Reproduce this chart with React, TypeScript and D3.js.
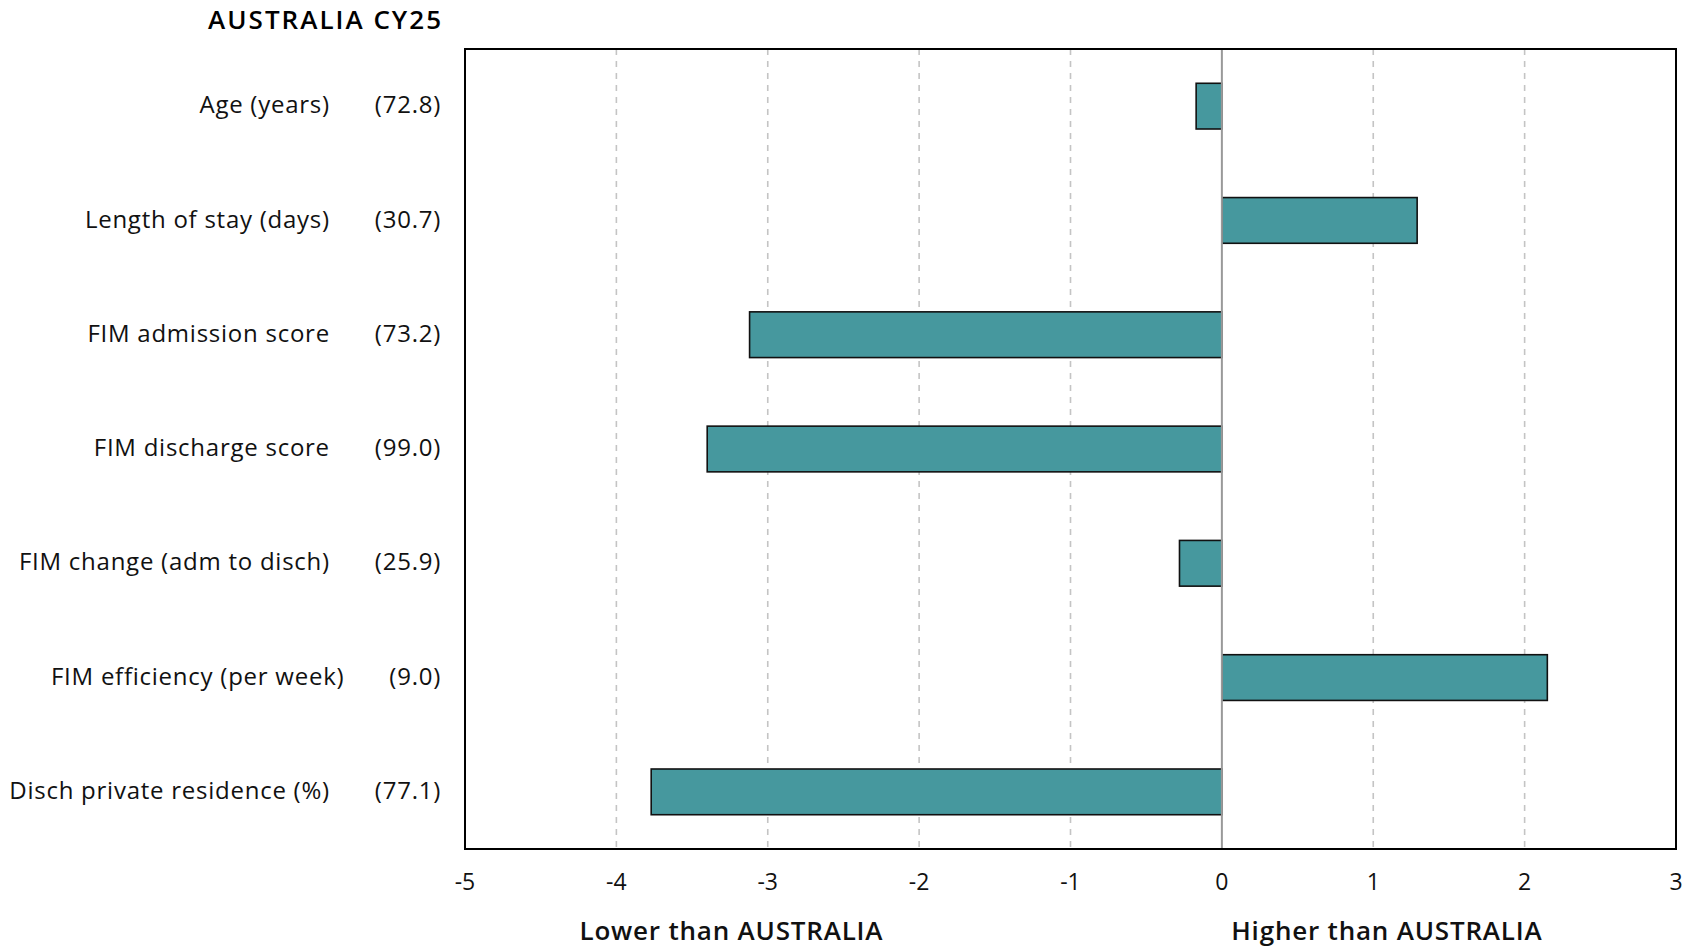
import React from "react";
import * as d3 from "d3";

const categories = [
  "Age (years)",
  "Length of stay (days)",
  "FIM admission score",
  "FIM discharge score",
  "FIM change (adm to disch)",
  "FIM efficiency (per week)",
  "Disch private residence (%)",
];
const refValues = ["(72.8)", "(30.7)", "(73.2)", "(99.0)", "(25.9)", "(9.0)", "(77.1)"];
const diffs = [-0.17, 1.29, -3.12, -3.4, -0.28, 2.15, -3.77];
const xTicks = [-5, -4, -3, -2, -1, 0, 1, 2, 3];
const title = "AUSTRALIA CY25";
const lowerLabel = "Lower than AUSTRALIA";
const higherLabel = "Higher than AUSTRALIA";

const W = 1696;
const H = 949;
const M = { left: 465, right: 1676, top: 49, bottom: 849 };
const FONT = "'Open Sans', Lato, sans-serif";

export default function App() {
  const x = d3.scaleLinear().domain([-5, 3]).range([M.left, M.right]);
  const y = d3
    .scaleBand<string>()
    .domain(categories)
    .range([M.top, M.bottom])
    .paddingInner(0.6)
    .paddingOuter(0.3);

  return (
    <svg
      width={W}
      height={H}
      style={{ position: "absolute", left: 0, top: 0, background: "#fff" }}
      fontFamily={FONT}
    >
      <rect x={0} y={0} width={W} height={H} fill="#fff" />
      <text x={443} y={20} dy="0.35em" textAnchor="end" fontSize={26} fontWeight={600} letterSpacing={2} fill="#000">
        {title}
      </text>
      {xTicks
        .filter((t) => t !== 0 && t !== -5 && t !== 3)
        .map((t) => (
          <line
            key={"g" + t}
            x1={x(t)}
            x2={x(t)}
            y1={M.top}
            y2={M.bottom}
            stroke="#c4c4c4"
            strokeWidth={1.6}
            strokeDasharray="6,6"
          />
        ))}
      {categories.map((c, i) => {
        const v = diffs[i];
        const x0 = x(Math.min(0, v));
        const x1 = x(Math.max(0, v));
        return (
          <rect
            key={"b" + c}
            x={x0}
            y={y(c)!}
            width={x1 - x0}
            height={y.bandwidth()}
            fill="#46989e"
            stroke="#111"
            strokeWidth={1.6}
          />
        );
      })}
      <line x1={x(0)} x2={x(0)} y1={M.top} y2={M.bottom} stroke="#999" strokeWidth={2} />
      <rect
        x={M.left}
        y={M.top}
        width={M.right - M.left}
        height={M.bottom - M.top}
        fill="none"
        stroke="#000"
        strokeWidth={2}
      />
      {categories.map((c, i) => (
        <text
          key={"l" + c}
          x={441}
          y={y(c)! + y.bandwidth() / 2}
          dy="0.3em"
          textAnchor="end"
          fontSize={24}
          letterSpacing={0.75}
          fill="#111"
        >
          <tspan>{c}</tspan>
          <tspan dx={45}>{refValues[i]}</tspan>
        </text>
      ))}
      {xTicks.map((t) => (
        <text
          key={"t" + t}
          x={x(t)}
          y={883}
          dy="0.3em"
          textAnchor="middle"
          fontSize={23}
          fill="#111"
        >
          {t < 0 ? "-" + Math.abs(t) : String(t)}
        </text>
      ))}
      <text x={x(-3.24)} y={932} dy="0.3em" textAnchor="middle" fontSize={26} fontWeight={600} letterSpacing={0.8} fill="#111">
        {lowerLabel}
      </text>
      <text x={x(1.09)} y={932} dy="0.3em" textAnchor="middle" fontSize={26} fontWeight={600} letterSpacing={0.8} fill="#111">
        {higherLabel}
      </text>
    </svg>
  );
}
